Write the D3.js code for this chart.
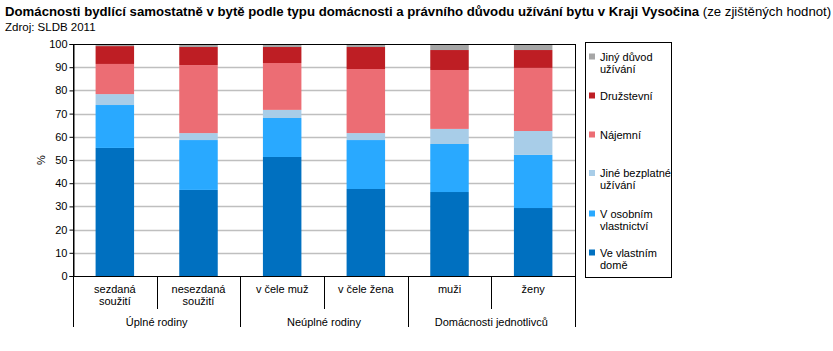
<!DOCTYPE html>
<html>
<head>
<meta charset="utf-8">
<script src="https://cdn.jsdelivr.net/npm/d3@7"></script>
<style>
  body { margin: 0; background: #fff; }
  svg { display: block; font-family: "Liberation Sans", Arial, sans-serif; }
</style>
</head>
<body>
<svg id="chart" width="833" height="351"></svg>
<script>
/* Domácnosti podle typu a právního důvodu užívání bytu */
const groups = ["Úplné rodiny", "Neúplné rodiny", "Domácnosti jednotlivců"];
const categories = [
  ["sezdaná", "soužití"], ["nesezdaná", "soužití"],
  ["v čele muž"], ["v čele žena"],
  ["muži"], ["ženy"]
];
const categoryGroup = [0, 0, 1, 1, 2, 2];
// series from bottom to top
const seriesNames = [
  ["Ve vlastním", "domě"],
  ["V osobním", "vlastnictví"],
  ["Jiné bezplatné", "užívání"],
  ["Nájemní"],
  ["Družstevní"],
  ["Jiný důvod", "užívání"]
];
const seriesColors = ["#0070C0", "#29A9FF", "#A8CDE8", "#EC6D74", "#BE1E24", "#A6A6A6"];
const vlastniDum    = [55.2, 37.1, 51.3, 37.5, 36.2, 29.3];
const osobniVlastn  = [18.5, 21.5, 16.8, 21.1, 20.7, 22.9];
const bezplatne     = [4.7, 3.0, 3.5, 3.0, 6.5, 10.3];
const najemni       = [13.0, 29.3, 20.2, 27.6, 25.4, 27.2];
const druzstevni    = [7.7, 7.8, 6.9, 9.5, 8.6, 7.7];
const jinyDuvod     = [0.9, 1.3, 1.3, 1.3, 2.6, 2.6];
const yTicks = [0, 10, 20, 30, 40, 50, 60, 70, 80, 90, 100];

const series = [vlastniDum, osobniVlastn, bezplatne, najemni, druzstevni, jinyDuvod];

const svg = d3.select("#chart");
const plot = { left: 73, top: 44, right: 575, bottom: 276 };

// Title
const title = svg.append("text").attr("x", 5).attr("y", 16)
  .style("font-size", "13.2px").attr("fill", "#000");
title.append("tspan").style("font-weight", "bold")
  .text("Domácnosti bydlící samostatně v bytě podle typu domácnosti a právního důvodu užívání bytu v Kraji Vysočina");
title.append("tspan").text(" (ze zjištěných hodnot)");
svg.append("text").attr("x", 5).attr("y", 31).style("font-size", "11.5px")
  .text("Zdroj: SLDB 2011");

// Scales
const x = d3.scaleBand().domain(d3.range(categories.length))
  .range([plot.left, plot.right]).paddingInner(0.54).paddingOuter(0.27);
const y = d3.scaleLinear().domain([0, 100]).range([plot.bottom, plot.top]);

// Gridlines
svg.append("g").selectAll("line").data(yTicks.slice(1, -1)).join("line")
  .attr("x1", plot.left).attr("x2", plot.right)
  .attr("y1", d => Math.round(y(d)) + 0.5).attr("y2", d => Math.round(y(d)) + 0.5)
  .attr("stroke", "#BFBFBF").attr("stroke-width", 1.3);

// Stacked bars
const rows = categories.map((c, i) => {
  const r = {};
  series.forEach((s, j) => r[j] = s[i]);
  return r;
});
const stack = d3.stack().keys(d3.range(series.length))(rows);
svg.append("g").selectAll("g").data(stack).join("g")
  .attr("fill", (d, i) => seriesColors[i])
  .selectAll("rect").data(d => d).join("rect")
  .attr("x", (d, i) => x(i))
  .attr("width", x.bandwidth())
  .attr("y", d => y(d[1]))
  .attr("height", d => y(d[0]) - y(d[1]));

// Y axis
const yAxis = svg.append("g").attr("transform", `translate(${plot.left + 0.5},0)`)
  .call(d3.axisLeft(y).tickValues(yTicks).tickSize(4).tickFormat(d3.format("d")));
yAxis.select(".domain").attr("stroke", "#000");
yAxis.selectAll("text").style("font-size", "11px").style("font-family", "Liberation Sans, Arial, sans-serif")
  .attr("fill", "#000").attr("x", -6);
svg.append("text").attr("transform", `translate(45,${(plot.top + plot.bottom) / 2}) rotate(-90)`)
  .attr("text-anchor", "middle").style("font-size", "11px").text("%");

// Plot frame
svg.append("rect").attr("x", plot.left + 0.5).attr("y", plot.top + 0.5)
  .attr("width", plot.right - plot.left).attr("height", plot.bottom - plot.top)
  .attr("fill", "none").attr("stroke", "#000");

// Category axis (two levels)
const catEdge = i => plot.left + (plot.right - plot.left) * i / categories.length;
const ax = svg.append("g");
categories.forEach((lines, i) => {
  const cx = catEdge(i) + (catEdge(i + 1) - catEdge(i)) / 2;
  const t = ax.append("text").attr("text-anchor", "middle").style("font-size", "11px");
  lines.forEach((l, k) => t.append("tspan").attr("x", cx).attr("y", 293 + k * 12).text(l));
});
d3.range(1, categories.length).forEach(i => {
  if (categoryGroup[i] !== categoryGroup[i - 1]) return;
  ax.append("line").attr("x1", Math.round(catEdge(i)) + 0.5).attr("x2", Math.round(catEdge(i)) + 0.5)
    .attr("y1", plot.bottom).attr("y2", 309).attr("stroke", "#000");
});
const groupEdges = [0];
categoryGroup.forEach((g, i) => { if (i > 0 && g !== categoryGroup[i - 1]) groupEdges.push(i); });
groupEdges.push(categories.length);
groupEdges.forEach(e => {
  ax.append("line").attr("x1", Math.round(catEdge(e)) + 0.5).attr("x2", Math.round(catEdge(e)) + 0.5)
    .attr("y1", plot.bottom).attr("y2", 327).attr("stroke", "#000");
});
groups.forEach((g, k) => {
  const a = catEdge(groupEdges[k]), b = catEdge(groupEdges[k + 1]);
  ax.append("text").attr("x", (a + b) / 2).attr("y", 326).attr("text-anchor", "middle")
    .style("font-size", "11px").text(g);
});

// Legend
const leg = svg.append("g");
leg.append("rect").attr("x", 585.5).attr("y", 42.5).attr("width", 86).attr("height", 235)
  .attr("fill", "#fff").attr("stroke", "#000");
const legY = [56.5, 95.5, 134.5, 173, 213.5, 252.5];
const order = d3.range(series.length).reverse();
order.forEach((si, k) => {
  const cy = legY[k];
  leg.append("rect").attr("x", 589).attr("y", cy - 3).attr("width", 6).attr("height", 6)
    .attr("fill", seriesColors[si]);
  const t = leg.append("text").style("font-size", "11px");
  seriesNames[si].forEach((l, n) => t.append("tspan").attr("x", 600).attr("y", cy + 4 + n * 12).text(l));
});
</script>
</body>
</html>
